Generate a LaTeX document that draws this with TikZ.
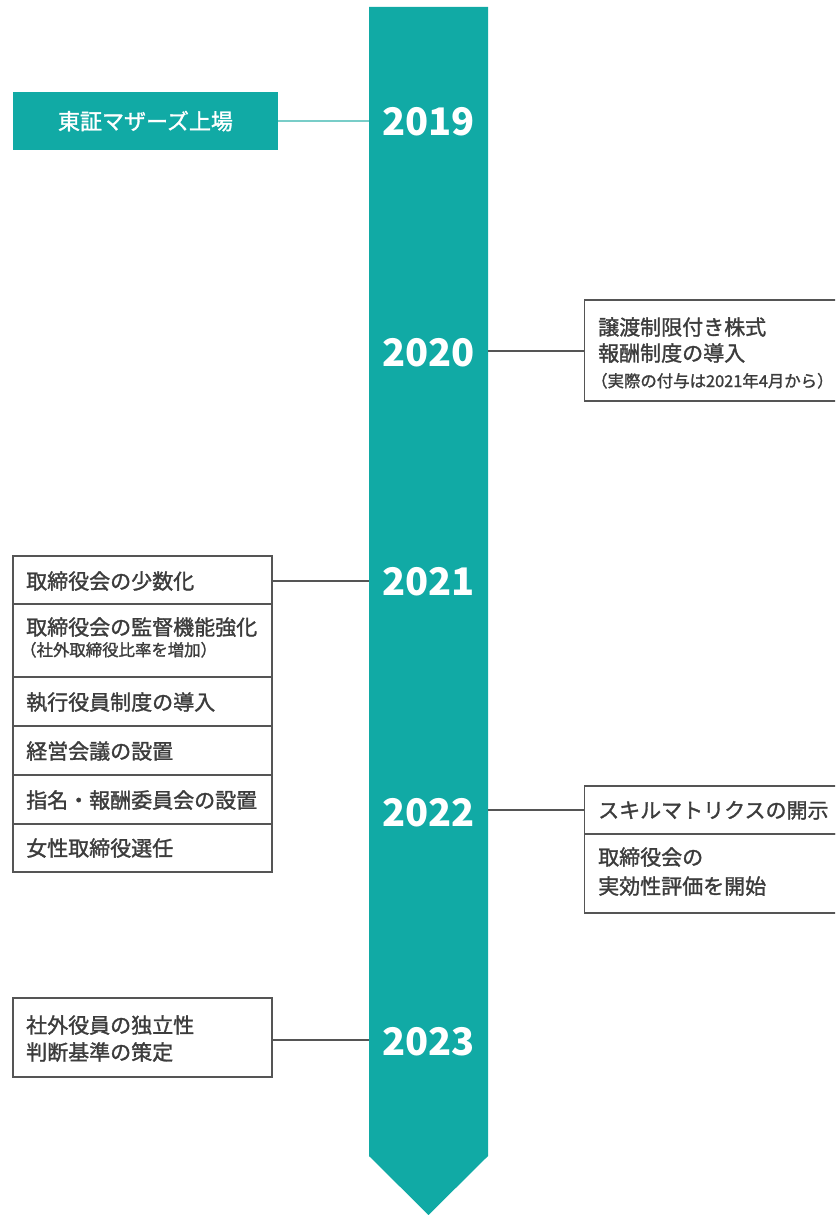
\documentclass[tikz,border=0pt]{standalone}
\usepackage{fontspec}
\setmainfont{Noto Sans CJK JP}
\newfontfamily\medfont{Noto Sans CJK JP}[FakeBold=1.4]
\definecolor{tealbar}{RGB}{17,170,165}
\definecolor{teallink}{RGB}{120,205,200}
\definecolor{boxline}{RGB}{85,85,85}
\definecolor{txt}{RGB}{60,60,60}
\begin{document}
\begin{tikzpicture}[x=1pt,y=-1pt,
  frame/.style={draw=boxline, line width=1.2pt, inner sep=0pt, outer sep=0pt, anchor=north west},
  label/.style={anchor=base west, inner sep=0pt, text=txt, font=\medfont\fontsize{21}{21}\selectfont},
  smalllabel/.style={anchor=base west, inner sep=0pt, text=txt, font=\medfont\fontsize{16.4}{16.4}\selectfont},
  yearlabel/.style={anchor=base, inner sep=0pt, text=white, font=\bfseries\fontsize{38}{38}\selectfont},
  conn/.style={draw=boxline, line width=1.2pt},
  tconn/.style={draw=teallink, line width=1.2pt}
]
\useasboundingbox (0,0) rectangle (835,1215);
\clip (0,0) rectangle (835,1215);

% timeline bar
\fill[tealbar] (369,7) -- (488,7) -- (488,1156) -- (428.5,1215) -- (369,1156) -- cycle;
\coordinate (L2019) at (369,121);
\coordinate (R2020) at (488,351);
\coordinate (L2021) at (369,581);
\coordinate (R2022) at (488,810);
\coordinate (L2023) at (369,1040);

\node[yearlabel] (y2019) at (428.5,135.5) {2019};
\node[yearlabel] (y2020) at (428.5,366.5) {2020};
\node[yearlabel] (y2021) at (428.5,595.5) {2021};
\node[yearlabel] (y2022) at (428.5,826.5) {2022};
\node[yearlabel] (y2023) at (428.5,1055.5) {2023};

% 2019
\node[fill=tealbar, inner sep=0pt, outer sep=0pt, anchor=north west, minimum width=265pt, minimum height=58pt] (m2019) at (13,92) {};
\node[anchor=base, inner sep=0pt, text=white, font=\medfont\fontsize{22}{22}\selectfont] (t2019) at (145.5,129.5) {東証マザーズ上場};
\draw[tconn] (m2019.east) -- (L2019);

% 2020
\node[frame, minimum width=270pt, minimum height=101pt] (b2020) at (584.5,300) {};
\node[label] (t2020a) at (598,335) {譲渡制限付き株式};
\node[label] (t2020b) at (598,361) {報酬制度の導入};
\node[smalllabel] (t2020c) at (591,387) {（実際の付与は2021年4月から）};
\draw[conn] (R2020) -- (b2020.west |- R2020);

% 2021
\node[frame, minimum width=259pt, minimum height=48pt] (r1) at (13,556) {};
\node[frame, minimum width=259pt, minimum height=73pt] (r2) at (13,604) {};
\node[frame, minimum width=259pt, minimum height=49pt] (r3) at (13,677) {};
\node[frame, minimum width=259pt, minimum height=49pt] (r4) at (13,726) {};
\node[frame, minimum width=259pt, minimum height=49pt] (r5) at (13,775) {};
\node[frame, minimum width=259pt, minimum height=48pt] (r6) at (13,824) {};
\node[label] (t21a) at (26,589) {取締役会の少数化};
\node[label] (t21b) at (26,635) {取締役会の監督機能強化};
\node[smalllabel] (t21c) at (20,656) {（社外取締役比率を増加）};
\node[label] (t21d) at (26,710) {執行役員制度の導入};
\node[label] (t21e) at (26,759) {経営会議の設置};
\node[label] (t21f) at (26,808) {指名・報酬委員会の設置};
\node[label] (t21g) at (26,856) {女性取締役選任};
\draw[conn] (r1.east |- L2021) -- (L2021);

% 2022
\node[frame, minimum width=270pt, minimum height=48pt] (s1) at (584.5,786) {};
\node[frame, minimum width=270pt, minimum height=79pt] (s2) at (584.5,834) {};
\node[label] (t22a) at (598,818) {スキルマトリクスの開示};
\node[label] (t22b) at (598,865) {取締役会の};
\node[label] (t22c) at (598,894) {実効性評価を開始};
\draw[conn] (R2022) -- (s1.west |- R2022);

% 2023
\node[frame, minimum width=259pt, minimum height=79pt] (b2023) at (13,998) {};
\node[label] (t23a) at (26,1033) {社外役員の独立性};
\node[label] (t23b) at (26,1060) {判断基準の策定};
\draw[conn] (b2023.east |- L2023) -- (L2023);
\end{tikzpicture}
\end{document}
